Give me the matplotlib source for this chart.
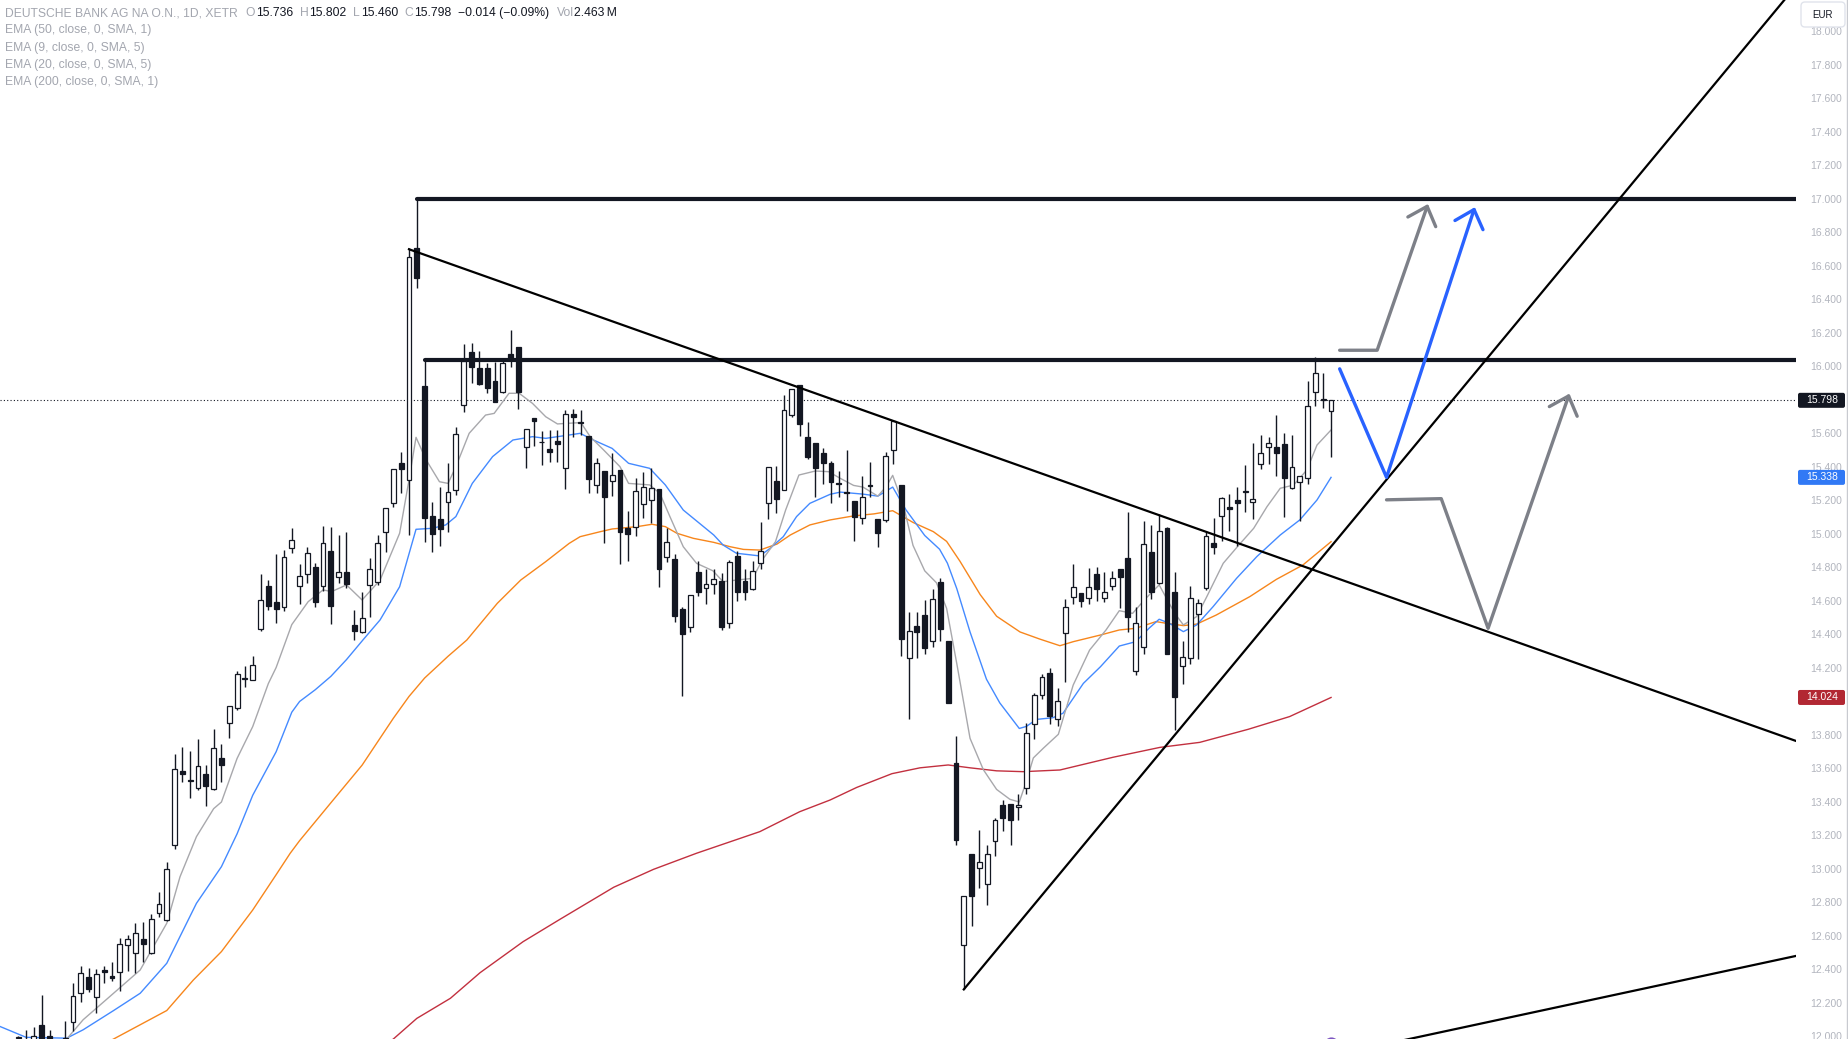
import matplotlib
matplotlib.use('Agg')
import matplotlib.pyplot as plt
import numpy as np
from matplotlib.patches import FancyBboxPatch
from matplotlib.transforms import IdentityTransform

plt.rcParams['font.family'] = ['Liberation Sans', 'DejaVu Sans']

# ---- daily candles ----
opens = [11.99, 11.96, 11.96, 12.07, 12.00, 11.95, 11.93, 12.085, 12.258, 12.353,
         12.234, 12.397, 12.361, 12.387, 12.544, 12.497, 12.58, 12.50, 12.735, 12.694,
         13.143, 13.584, 13.531, 13.484, 13.567, 13.476, 13.664, 13.872, 13.962, 14.143,
         14.128, 14.435, 14.689, 14.593, 14.566, 14.914, 14.69, 14.761, 14.801, 14.692,
         14.898, 14.741, 14.775, 14.457, 14.417, 14.696, 14.715, 15.01, 15.187, 15.422,
         15.322, 16.705, 15.886, 15.11, 15.088, 15.189, 15.263, 15.77, 16.085, 15.989,
         15.993, 15.915, 15.85, 16.073, 16.114, 15.521, 15.69, 15.547, 15.507, 15.555,
         15.392, 15.714, 15.665, 15.585, 15.291, 15.376, 15.314, 15.382, 15.034, 15.04,
         15.177, 15.201, 15.267, 14.861, 14.849, 14.55, 14.447, 14.771, 14.676, 14.699,
         14.719, 14.467, 14.87, 14.719, 14.673, 14.825, 15.183, 15.318, 15.263, 15.708,
         15.888, 15.577, 15.541, 15.482, 15.426, 15.304, 15.25, 15.198, 15.097, 15.29,
         15.092, 15.085, 15.50, 15.292, 14.262, 14.45, 14.514, 14.361, 14.716, 14.361,
         13.635, 12.547, 13.087, 13.005, 12.911, 13.165, 13.381, 13.386, 13.369, 13.482,
         13.863, 14.039, 14.168, 13.893, 14.407, 14.622, 14.646, 14.616, 14.759, 14.616,
         14.692, 14.789, 14.855, 14.184, 14.323, 14.891, 14.705, 15.034, 14.652, 14.212,
         14.258, 14.52, 14.676, 14.944, 15.109, 15.159, 15.203, 15.253, 15.189, 15.416,
         15.517, 15.517, 15.535, 15.273, 15.312, 15.332, 15.846, 15.80, 15.736]
highs = [12.00, 12.04, 12.055, 12.25, 12.04, 11.98, 12.09, 12.32, 12.423, 12.407,
         12.403, 12.421, 12.443, 12.588, 12.604, 12.676, 12.684, 12.73, 12.863, 13.042,
         13.687, 13.73, 13.702, 13.778, 13.621, 13.836, 13.749, 13.975, 14.182, 14.214,
         14.273, 14.764, 14.725, 14.879, 14.906, 15.034, 14.819, 14.924, 14.829, 15.048,
         15.04, 14.994, 15.01, 14.546, 14.652, 14.855, 14.992, 15.153, 15.386, 15.487,
         16.705, 17.008, 16.04, 15.19, 15.279, 15.422, 15.639, 16.134, 16.138, 16.094,
         16.022, 16.028, 16.039, 16.218, 16.114, 15.625, 15.69, 15.617, 15.62, 15.62,
         15.74, 15.744, 15.74, 15.585, 15.456, 15.376, 15.482, 15.382, 15.137, 15.332,
         15.368, 15.392, 15.267, 15.038, 14.879, 14.566, 14.634, 14.839, 14.791, 14.791,
         14.765, 14.845, 14.9, 14.791, 14.839, 15.07, 15.398, 15.406, 15.83, 15.864,
         15.888, 15.671, 15.541, 15.511, 15.438, 15.374, 15.5, 15.198, 15.348, 15.43,
         15.092, 15.49, 15.673, 15.292, 14.537, 14.532, 14.603, 14.669, 14.74, 14.361,
         13.792, 12.836, 13.087, 13.233, 13.146, 13.306, 13.409, 13.386, 13.45, 13.874,
         14.051, 14.164, 14.199, 14.079, 14.61, 14.819, 14.646, 14.795, 14.801, 14.775,
         14.779, 14.789, 15.129, 14.562, 15.077, 15.054, 15.117, 15.044, 14.771, 14.361,
         14.69, 14.61, 15.014, 15.094, 15.223, 15.239, 15.279, 15.412, 15.545, 15.591,
         15.577, 15.71, 15.605, 15.591, 15.348, 15.913, 16.059, 15.963, 15.802]
lows = [11.93, 11.90, 11.92, 11.92, 11.93, 11.88, 11.90, 12.03, 12.208, 12.268,
        12.138, 12.318, 12.333, 12.274, 12.393, 12.377, 12.447, 12.49, 12.715, 12.69,
        13.122, 13.52, 13.425, 13.471, 13.378, 13.471, 13.52, 13.783, 13.951, 14.086,
        14.128, 14.418, 14.544, 14.469, 14.542, 14.885, 14.582, 14.71, 14.566, 14.662,
        14.46, 14.705, 14.676, 14.37, 14.407, 14.503, 14.696, 14.894, 15.163, 15.243,
        14.994, 16.466, 14.954, 14.894, 14.93, 15.014, 15.233, 15.73, 15.90, 15.89,
        15.84, 15.786, 15.84, 15.995, 15.746, 15.396, 15.526, 15.412, 15.43, 15.43,
        15.266, 15.581, 15.59, 15.247, 15.247, 14.948, 15.227, 14.819, 14.841, 14.99,
        15.098, 15.068, 14.686, 14.835, 14.473, 14.035, 14.413, 14.632, 14.58, 14.64,
        14.427, 14.441, 14.60, 14.606, 14.665, 14.791, 15.087, 15.127, 15.263, 15.70,
        15.587, 15.448, 15.219, 15.299, 15.186, 15.22, 15.137, 14.96, 15.062, 15.219,
        14.92, 15.073, 15.42, 14.274, 13.898, 14.262, 14.281, 14.328, 14.361, 13.992,
        13.146, 12.281, 12.657, 12.887, 12.786, 13.08, 13.228, 13.146, 13.292, 13.446,
        13.774, 14.016, 13.867, 13.851, 14.114, 14.582, 14.562, 14.58, 14.602, 14.596,
        14.666, 14.556, 14.413, 14.158, 14.283, 14.612, 14.701, 14.283, 13.83, 14.103,
        14.222, 14.252, 14.666, 14.878, 14.96, 15.02, 14.93, 15.129, 15.088, 15.386,
        15.418, 15.346, 15.104, 15.267, 15.08, 15.298, 15.766, 15.754, 15.46]
closes = [11.99, 11.97, 12.00, 11.95, 11.97, 11.96, 11.99, 12.24, 12.377, 12.286,
          12.371, 12.383, 12.347, 12.55, 12.58, 12.616, 12.55, 12.70, 12.789, 12.998,
          13.595, 13.567, 13.528, 13.617, 13.493, 13.723, 13.623, 13.975, 14.165, 14.132,
          14.22, 14.604, 14.572, 14.555, 14.86, 14.964, 14.751, 14.885, 14.592, 14.944,
          14.572, 14.775, 14.70, 14.423, 14.497, 14.789, 14.944, 15.153, 15.386, 15.39,
          16.652, 16.526, 15.094, 15.0, 15.03, 15.249, 15.595, 16.033, 15.995, 15.893,
          15.87, 15.79, 16.023, 16.049, 15.846, 15.625, 15.676, 15.55, 15.491, 15.535,
          15.714, 15.70, 15.662, 15.326, 15.422, 15.219, 15.35, 15.014, 14.998, 15.255,
          15.283, 15.273, 14.789, 14.95, 14.512, 14.401, 14.634, 14.652, 14.699, 14.729,
          14.447, 14.831, 14.655, 14.655, 14.779, 14.896, 15.398, 15.211, 15.738, 15.864,
          15.655, 15.462, 15.392, 15.422, 15.313, 15.30, 15.247, 15.10, 15.22, 15.287,
          15.003, 15.466, 15.673, 14.373, 14.422, 14.415, 14.317, 14.61, 14.432, 13.992,
          13.174, 12.836, 12.836, 13.04, 13.087, 13.292, 13.306, 13.294, 13.381, 13.809,
          14.039, 14.145, 13.914, 14.004, 14.562, 14.686, 14.60, 14.686, 14.67, 14.656,
          14.735, 14.741, 14.506, 14.467, 14.938, 14.656, 15.02, 14.283, 14.025, 14.268,
          14.616, 14.586, 14.99, 14.924, 15.213, 15.149, 15.183, 15.255, 15.207, 15.482,
          15.545, 15.486, 15.336, 15.398, 15.348, 15.766, 15.959, 15.804, 15.798]

# ---- moving averages, sampled along the drawn lines (bar index, price) ----
ema9_x = [4, 6.2, 8.3, 11.7, 15.6, 19, 20.7, 22.8, 25, 26, 28, 30, 32, 33, 35, 37.1, 39, 40.1, 42, 44,
          46.3, 48.8, 50, 50.9, 52.2, 53.9, 55, 56, 57.7, 59.8, 60.9, 62.8, 64.1, 65.8, 67.5, 69, 70,
          72, 73.2, 74.9, 77, 78.1, 80.8, 82.1, 83.4, 85.1, 86.8, 88.9, 90.2, 91.9, 94, 95.2, 96.9,
          98.2, 99.9, 102, 103.7, 105.2, 106.9, 108.1, 110, 111.1, 111.9, 113.3, 114.5, 116, 117.5,
          118.8, 120.1, 121.8, 123.5, 125.2, 126.9, 128.1, 129, 129.9, 131.2, 133.1, 135, 137.1,
          139.2, 140.9, 142.6, 144.3, 146, 148, 149.1, 150.8, 152.1, 154.2, 156.2, 158.1, 159.8,
          161.5, 163.2, 164.9, 166.2, 168]
ema9_y = [11.95, 11.985, 12.10, 12.238, 12.397, 12.676, 12.954, 13.193, 13.36, 13.40, 13.66, 13.85,
          14.107, 14.203, 14.459, 14.596, 14.666, 14.656, 14.696, 14.606, 14.725, 15.004, 15.322,
          15.577, 15.442, 15.312, 15.302, 15.402, 15.601, 15.71, 15.72, 15.84, 15.84, 15.78, 15.70,
          15.657, 15.66, 15.665, 15.58, 15.502, 15.402, 15.302, 15.293, 15.243, 15.103, 14.924,
          14.825, 14.78, 14.715, 14.725, 14.735, 14.845, 14.954, 15.143, 15.352, 15.376, 15.372,
          15.332, 15.29, 15.28, 15.226, 15.285, 15.35, 15.167, 14.932, 14.78, 14.709, 14.556,
          14.227, 13.78, 13.593, 13.475, 13.416, 13.40, 13.522, 13.663, 13.722, 13.804, 14.098,
          14.307, 14.427, 14.542, 14.526, 14.616, 14.696, 14.526, 14.457, 14.507, 14.626, 14.825,
          14.934, 15.034, 15.163, 15.273, 15.292, 15.382, 15.531, 15.621]
ema20_x = [-2.3, 1, 6.2, 8.3, 12.2, 15.6, 19, 22.8, 26, 28, 30, 33, 35, 36, 38, 40, 42, 44.1, 46.3,
           48.8, 50.9, 53, 54.7, 56, 58.1, 60.7, 63.3, 65.8, 67.5, 70.5, 71.9, 73.6, 76, 78.1, 80.8,
           82.8, 85.1, 89, 90.2, 91.9, 94.9, 96.2, 97.9, 99.6, 101.3, 103.9, 105.2, 108.1, 110, 111.9,
           113.6, 116, 117.9, 118.9, 120.1, 121.8, 123.9, 125.6, 128.1, 129, 130.3, 132.4, 133.7,
           136.3, 138.5, 140.9, 143, 144.7, 146, 147.3, 149.1, 150.8, 152.9, 155.9, 158.5, 161.5,
           164, 166.2, 168]
ema20_y = [12.059, 11.995, 11.99, 12.04, 12.155, 12.258, 12.437, 12.795, 13.014, 13.21, 13.44, 13.70,
           13.936, 14.0, 14.07, 14.15, 14.25, 14.367, 14.487, 14.685, 15.028, 15.034, 15.054, 15.104,
           15.302, 15.462, 15.561, 15.581, 15.571, 15.591, 15.601, 15.561, 15.511, 15.422, 15.392,
           15.293, 15.143, 14.994, 14.934, 14.885, 14.869, 14.914, 14.984, 15.104, 15.183, 15.237,
           15.25, 15.238, 15.226, 15.28, 15.144, 14.991, 14.909, 14.826, 14.674, 14.415, 14.133,
           13.992, 13.839, 13.851, 13.893, 13.903, 13.93, 14.108, 14.208, 14.331, 14.357, 14.437,
           14.491, 14.467, 14.417, 14.457, 14.566, 14.735, 14.865, 14.994, 15.084, 15.203, 15.338]
ema50_x = [10, 12.2, 19, 22.4, 26, 30, 33, 34.8, 36, 40.3, 44, 46, 48, 50, 52, 55, 57.4, 61.3, 64.3,
           67.5, 70.5, 71.9, 74.5, 76, 79.2, 81.1, 82.8, 84.3, 86.4, 89, 91.1, 92.8, 94.9, 97.1, 98.8,
           101.3, 103.9, 106.9, 109.5, 111.9, 114.5, 117.1, 118.8, 120.5, 123.1, 125.2, 128.2, 130.7,
           133.3, 135, 138.5, 140.9, 143, 145.6, 146.9, 149.1, 150.8, 153.3, 157.6, 161, 164.4, 168]
ema50_y = [11.93, 11.985, 12.155, 12.337, 12.507, 12.755, 12.966, 13.094, 13.169, 13.412, 13.62, 13.76,
           13.90, 14.03, 14.14, 14.27, 14.367, 14.586, 14.725, 14.835, 14.944, 14.984, 15.014, 15.03,
           15.044, 15.058, 15.044, 15.004, 14.974, 14.95, 14.924, 14.908, 14.904, 14.94, 14.994,
           15.054, 15.084, 15.108, 15.12, 15.139, 15.069, 15.014, 14.956, 14.838, 14.638, 14.509,
           14.415, 14.373, 14.333, 14.357, 14.397, 14.427, 14.437, 14.477, 14.467, 14.453, 14.462,
           14.516, 14.626, 14.729, 14.815, 14.954]
ema200_x = [46, 48, 51, 55.3, 59.1, 64.6, 69.3, 76.2, 81.3, 86.8, 94.9, 100, 103.9, 107.3, 111.8, 115.4,
            119, 121.8, 125.2, 128.6, 133.3, 140.1, 146.1, 151.2, 157.4, 162.7, 168]
ema200_y = [11.92, 11.985, 12.108, 12.228, 12.381, 12.566, 12.699, 12.891, 12.998, 13.094, 13.223,
            13.342, 13.412, 13.487, 13.569, 13.604, 13.621, 13.604, 13.586, 13.581, 13.591, 13.667,
            13.726, 13.756, 13.834, 13.91, 14.024]

# ---- drawings ----
res_top, res_top_from = 17.0, 51
res_mid, res_mid_from = 16.04, 52
down_tl = ([50, 227.4], [16.70, 13.766])
up_tl = ([121, 228], [12.281, 18.30])
low_tl = ([176, 227.4], [11.965, 12.48])
gray_path1 = ([169.1, 173.9, 180.3], [16.097, 16.097, 16.956])
blue_path = ([169.1, 175.1, 186.3], [15.986, 15.338, 16.937])
gray_path2 = ([175.1, 182.1, 188.1, 198.4], [15.204, 15.211, 14.437, 15.824])

yticks = [12.0, 12.2, 12.4, 12.6, 12.8, 13.0, 13.2, 13.4, 13.6, 13.8, 14.0, 14.2, 14.4, 14.6, 14.8,
          15.0, 15.2, 15.4, 15.6, 15.8, 16.0, 16.2, 16.4, 16.6, 16.8, 17.0, 17.2, 17.4, 17.6, 17.8, 18.0]
hidden_ticks = [14.0, 15.8]   # covered by the price tags
last_price = 15.798
price_tags = [(15.798, '#131722'), (15.338, '#3179f5'), (14.024, '#b22833')]

DK = '#131722'
GR = '#a3a6af'

W, H = 1849, 1039
fig = plt.figure(figsize=(W / 100, H / 100), dpi=100)
ax = fig.add_axes([0, 0, 1796 / W, 1])
ax.set_xlim(-2.34, 227.5)
ax.set_ylim(11.985, 18.188)
for s in ax.spines.values():
    s.set_visible(False)
ax.set_xticks([])
ax.yaxis.tick_right()
ax.set_yticks(yticks)
ax.set_yticklabels(['' if v in hidden_ticks else f'{v:.3f}' for v in yticks])
ax.tick_params(axis='y', length=0, pad=10, labelsize=7.5, labelcolor='#b2b5be')

# moving averages
ax.plot(ema200_x, ema200_y, color='#c2303f', lw=1.0, zorder=2)
ax.plot(ema50_x, ema50_y, color='#f7861c', lw=1.0, zorder=2)
ax.plot(ema20_x, ema20_y, color='#448aff', lw=1.0, zorder=2)
ax.plot(ema9_x, ema9_y, color='#a8a8ac', lw=1.0, zorder=2)

# candles
idx = np.arange(len(closes))
o, h, l, c = map(np.array, (opens, highs, lows, closes))
ax.vlines(idx, l, h, color=DK, lw=1.0, zorder=3)
up = c >= o
body = np.maximum(np.abs(c - o), 0.004)
ax.bar(idx, body, bottom=np.minimum(o, c), width=0.62,
       color=np.where(up, 'white', DK), edgecolor=DK, linewidth=0.9, zorder=4)

# current price line
ax.axhline(last_price, color=DK, lw=0.8, ls=(0, (1, 2)), zorder=1)

# trend / level lines
ax.plot([res_top_from, 230], [res_top, res_top], color=DK, lw=3.0, solid_capstyle='round', zorder=5)
ax.plot([res_mid_from, 230], [res_mid, res_mid], color=DK, lw=3.0, solid_capstyle='round', zorder=5)
ax.plot(*down_tl, color='black', lw=1.6, zorder=5)
ax.plot(*up_tl, color='black', lw=1.6, zorder=5)
ax.plot(*low_tl, color='black', lw=1.6, zorder=5)


def chevron(xs, ys, color, length=22, ang=42):
    tip = ax.transData.transform((xs[-1], ys[-1]))
    prev = ax.transData.transform((xs[-2], ys[-2]))
    d = (prev - tip) / np.hypot(*(prev - tip))
    pts = []
    for sgn in (1, -1):
        a = np.radians(ang * sgn)
        r = np.array([d[0] * np.cos(a) - d[1] * np.sin(a), d[0] * np.sin(a) + d[1] * np.cos(a)])
        pts.append(ax.transData.inverted().transform(tip + length * r))
    ax.plot([pts[0][0], xs[-1], pts[1][0]], [pts[0][1], ys[-1], pts[1][1]], color=color, lw=2.4,
            solid_capstyle='round', solid_joinstyle='round', zorder=6)


for path, col in [(gray_path1, '#7d8088'), (blue_path, '#2962ff'), (gray_path2, '#7d8088')]:
    ax.plot(*path, color=col, lw=2.4, solid_capstyle='round', solid_joinstyle='round', zorder=6)
    chevron(*path, col)

# small event marker at the bottom
ax.plot(168, 11.955, 'o', ms=9, mfc='none', mec='#7e57c2', mew=1.2, zorder=6, clip_on=True)

# price tags on the scale
for v, col in price_tags:
    yd = ax.transData.transform((0, v))[1]
    fig.patches.append(FancyBboxPatch((1798, yd - 7.5), 47, 15, boxstyle='round,pad=0,rounding_size=2',
                                      transform=IdentityTransform(), fc=col, ec='none', zorder=10))
    fig.text(1822 / W, yd / H, f'{v:.3f}', color='white', fontsize=7.5, ha='center', va='center', zorder=11)

# currency box
fig.patches.append(FancyBboxPatch((1801, H - 27), 44, 25, boxstyle='round,pad=0,rounding_size=4',
                                  transform=IdentityTransform(), fc='white', ec='#e0e3eb', lw=1, zorder=10))
fig.text(1823 / W, 1 - 14.5 / H, 'EUR', color=DK, fontsize=7, ha='center', va='center', zorder=11)
fig.add_artist(plt.Line2D([1847.5 / W, 1847.5 / W], [0, 1], transform=fig.transFigure, color='#c8cad0', lw=1))

# legend rows
rend = fig.canvas.get_renderer()


def row(y, parts, x=5.0):
    for s, col, gap in parts:
        t = fig.text(x / W, 1 - y / H, s, color=col, fontsize=8.7, ha='left', va='center')
        x += t.get_window_extent(rend).width + gap


row(13, [('DEUTSCHE BANK AG NA O.N., 1D, XETR', GR, 8), ('O', GR, 0.5), ('15.736', DK, 7),
         ('H', GR, 0.5), ('15.802', DK, 7), ('L', GR, 0.5), ('15.460', DK, 7), ('C', GR, 0.5),
         ('15.798', DK, 7), ('\u22120.014 (\u22120.09%)', DK, 7), ('Vol', GR, 0.5), ('2.463\u2009M', DK, 0)])
for k, s in enumerate(['EMA (50, close, 0, SMA, 1)', 'EMA (9, close, 0, SMA, 5)',
                       'EMA (20, close, 0, SMA, 5)', 'EMA (200, close, 0, SMA, 1)']):
    row(30.5 + 17.2 * k, [(s, GR, 0)])

fig.savefig('out.png', dpi=100)
